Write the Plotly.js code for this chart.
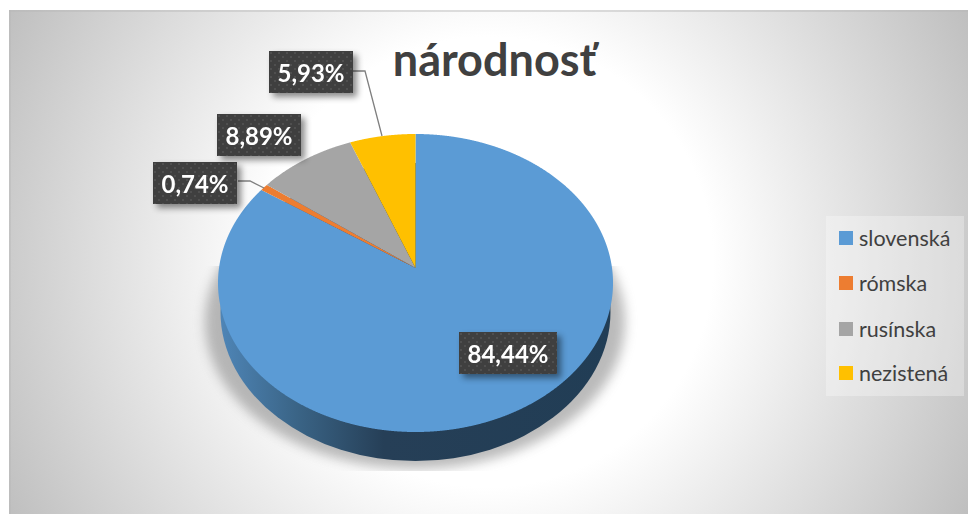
<!DOCTYPE html>
<html>
<head>
<meta charset="utf-8">
<script src="https://cdn.plot.ly/plotly-3.0.1.min.js"></script>
<style>html,body{margin:0;padding:0;background:#fff;overflow:hidden}#chart{width:968px;height:514px}</style>
</head>
<body>
<div id="chart"></div>
<script>
var categories = ['slovenská', 'rómska', 'rusínska', 'nezistená'];
var counts = [114, 1, 12, 8];
var colors = ['#5B9BD5', '#ED7D31', '#A5A5A5', '#FFC000'];
var chartTitle = 'národnosť';

var W = 968, H = 514;
var FONT = 'Lato, "Open Sans", sans-serif';
function px(x) { return x / W; }
function py(y) { return 1 - y / H; }
var total = counts.reduce(function (a, b) { return a + b; }, 0);
function pct(v) { return (v / total * 100).toFixed(2).replace('.', ',') + '%'; }

var backdrop =
 '<svg xmlns="http://www.w3.org/2000/svg" width="968" height="514" viewBox="0 0 968 514">' +
 '<defs>' +
 '<radialGradient id="bg" gradientUnits="userSpaceOnUse" cx="488" cy="262" r="542">' +
 '<stop offset="0.415" stop-color="#ffffff"/><stop offset="1" stop-color="#bfbfbf"/></radialGradient>' +
 '<linearGradient id="side" gradientUnits="userSpaceOnUse" x1="218" y1="0" x2="613" y2="0">' +
 '<stop offset="0" stop-color="#4f86b8"/><stop offset="0.2" stop-color="#3a6486"/>' +
 '<stop offset="0.42" stop-color="#263f57"/><stop offset="1" stop-color="#213d55"/></linearGradient>' +
 '<filter id="blur" x="-20%" y="-20%" width="140%" height="140%"><feGaussianBlur stdDeviation="6"/></filter>' +
 '<clipPath id="sc"><rect x="190" y="266" width="450" height="205"/></clipPath>' +
 '</defs>' +
 '<rect x="9" y="10" width="959" height="504" fill="url(#bg)"/>' +
 '<rect x="9" y="10" width="959" height="2" fill="#b8b8b8" opacity="0.45"/>' +
 '<rect x="9" y="10" width="2" height="504" fill="#b8b8b8" opacity="0.45"/>' +
 '<g clip-path="url(#sc)"><ellipse cx="415" cy="322" rx="210" ry="147" fill="#777" opacity="0.5" filter="url(#blur)"/></g>' +
 '<ellipse cx="415.5" cy="312" rx="195" ry="149" fill="url(#side)"/>' +
 '</svg>';

// label boxes: centre x, centre y, width
var boxes = [[508, 353, 98], [195, 183, 84], [259, 135, 84], [311, 72.5, 84]];
var annotations = boxes.map(function (b, i) {
  return {
    xref: 'paper', yref: 'paper', x: px(b[0]), y: py(b[1]), xanchor: 'center', yanchor: 'middle',
    text: '<b>' + pct(counts[i]) + '</b>', showarrow: false,
    width: b[2], height: 42, borderpad: 0, borderwidth: 0, bgcolor: '#3f3f3f',
    font: { family: FONT, size: 24, color: '#ffffff' }
  };
});

function leader(pts) {
  return {
    type: 'path', xref: 'paper', yref: 'paper', layer: 'above',
    path: pts.map(function (p, i) { return (i ? 'L' : 'M') + px(p[0]) + ',' + py(p[1]); }).join(' '),
    line: { color: '#7f7f7f', width: 1.3 }
  };
}

var R0 = 200, CX = 415.5, CY = 268;
var data = [{
  type: 'pie', labels: categories, values: counts, sort: false, direction: 'clockwise', rotation: 0,
  marker: { colors: colors, line: { width: 0 } }, textinfo: 'none', hoverinfo: 'label+percent',
  domain: { x: [px(CX - R0), px(CX + R0)], y: [py(CY + R0), py(CY - R0)] }
}];
var layout = {
  width: W, height: H, margin: { l: 0, r: 0, t: 0, b: 0 },
  paper_bgcolor: 'rgba(0,0,0,0)', plot_bgcolor: 'rgba(0,0,0,0)',
  title: {
    text: '<b>' + chartTitle + '</b>', x: 494.5 / W, xref: 'paper', xanchor: 'center',
    y: py(60), yref: 'paper', yanchor: 'middle',
    font: { family: FONT, size: 45, color: '#404040' }
  },
  showlegend: true,
  legend: {
    x: px(826), y: py(216), xanchor: 'left', yanchor: 'top', bgcolor: 'rgba(255,255,255,0.3)',
    font: { family: FONT, size: 21.5, color: '#404040' }, traceorder: 'normal'
  },
  images: [{
    source: 'data:image/svg+xml,' + encodeURIComponent(backdrop),
    xref: 'paper', yref: 'paper', x: 0, y: 1, sizex: 1, sizey: 1, sizing: 'stretch',
    xanchor: 'left', yanchor: 'top', layer: 'below'
  }],
  annotations: annotations,
  shapes: [
    leader([[353, 71], [365, 71], [382, 136]]),
    leader([[238, 181], [250, 181], [264, 188]])
  ]
};

function warpSlices(gd) {
  // perspective of the tilted disc: apex above the visual centre of the ellipse
  var top = 134, bottom = 164, halfW = 197.5;
  var u = (top - bottom) / (top + bottom);
  var aR = bottom * (1 + u);
  var cR = halfW * Math.sqrt(1 - u * u);
  var cd0 = gd.calcdata[0][0];
  var r = cd0.r;
  gd.querySelectorAll('.pielayer path.surface').forEach(function (p) {
    var m = p.getCTM();
    var len = p.getTotalLength();
    var n = Math.max(4, Math.ceil(len * 2));
    var out = [];
    for (var i = 0; i <= n; i++) {
      var q = p.getPointAtLength(len * i / n);
      var X = (q.x + m.e - CX) / r, Y = (q.y + m.f - CY) / r;
      var d = 1 + u * Y;
      out.push((CX + cR * X / d - m.e).toFixed(2) + ',' + (CY + aR * Y / d - m.f).toFixed(2));
    }
    p.setAttribute('d', 'M' + out.join('L') + 'Z');
  });
}

function dressLegend(gd) {
  var L = gd.querySelector('.legend');
  L.setAttribute('transform', 'translate(826,216)');
  var bg = L.querySelector('.bg');
  bg.setAttribute('x', 0); bg.setAttribute('y', 0);
  bg.setAttribute('width', 138); bg.setAttribute('height', 180);
  var sb = L.querySelector('.scrollbox');
  sb.removeAttribute('clip-path'); sb.style.clipPath = 'none';
  sb.setAttribute('transform', '');
  var rows = [22, 67, 113, 157];
  L.querySelectorAll('.traces').forEach(function (t, i) {
    t.setAttribute('transform', 'translate(0,' + rows[i] + ')');
    var s = t.querySelector('.legendpoints path');
    if (s) {
      s.setAttribute('d', 'M7,7H-7V-7H7Z');
      s.setAttribute('transform', 'translate(20,0)');
    }
    var tx = t.querySelector('.legendtext');
    tx.setAttribute('x', 33);
    tx.querySelectorAll('tspan').forEach(function (ts) { if (ts.hasAttribute('x')) ts.setAttribute('x', 33); });
  });
}

function dressBoxes(gd) {
  var svg = gd.querySelector('svg.main-svg');
  var ns = 'http://www.w3.org/2000/svg';
  var defs = document.createElementNS(ns, 'defs');
  defs.innerHTML = '<pattern id="dots" width="8" height="8" patternUnits="userSpaceOnUse">' +
    '<rect width="8" height="8" fill="#3f3f3f"/>' +
    '<circle cx="2" cy="2" r="0.9" fill="#565656"/><circle cx="6" cy="6" r="0.9" fill="#565656"/></pattern>';
  svg.insertBefore(defs, svg.firstChild);
  gd.querySelectorAll('.annotation').forEach(function (a) {
    a.style.filter = 'drop-shadow(4px 4px 3px rgba(0,0,0,0.45))';
    var bg = a.querySelector('rect.bg');
    if (bg) bg.style.fill = 'url(#dots)';
  });
}

var gd = document.getElementById('chart');
Plotly.newPlot(gd, data, layout, { displayModeBar: false, responsive: false }).then(function () {
  warpSlices(gd);
  dressLegend(gd);
  dressBoxes(gd);
});
</script>
</body>
</html>
